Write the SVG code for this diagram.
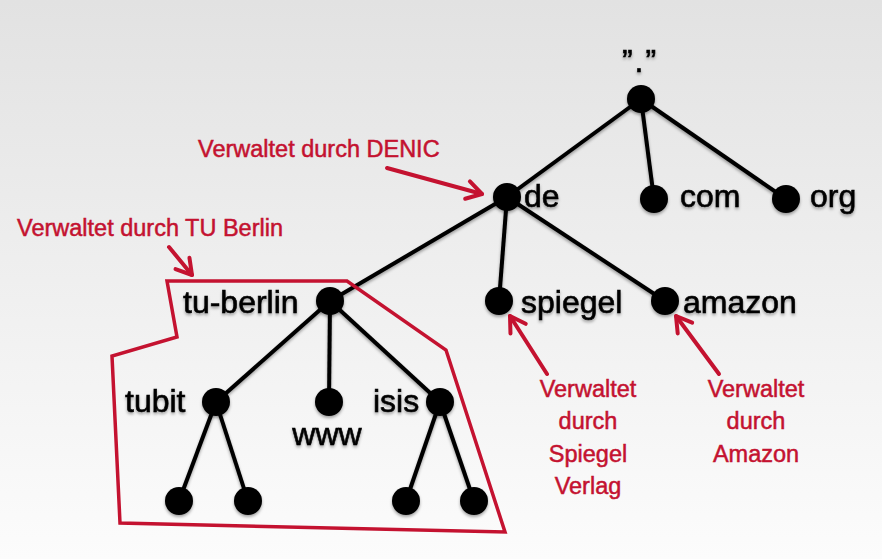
<svg xmlns="http://www.w3.org/2000/svg" width="882" height="559" viewBox="0 0 882 559">
<defs>
<linearGradient id="bg" x1="0" y1="0" x2="0" y2="1">
<stop offset="0" stop-color="#e2e2e2"/>
<stop offset="1" stop-color="#fcfcfc"/>
</linearGradient>
<filter id="sh" x="-20%" y="-20%" width="140%" height="140%">
<feDropShadow dx="0" dy="2" stdDeviation="1.6" flood-color="#000" flood-opacity="0.35"/>
</filter>
<marker id="ah" markerUnits="userSpaceOnUse" viewBox="-20 -12 24 24" markerWidth="24" markerHeight="24" refX="0" refY="0" orient="auto">
<path d="M-15,-9 L0,0 L-15,9" fill="none" stroke="#c41230" stroke-width="4" stroke-linecap="round" stroke-linejoin="round"/>
</marker>
</defs>
<style>
.edge{stroke:#000;stroke-width:4;fill:none}
.node{fill:#000}
.lbl{font-family:"Liberation Sans",Arial,sans-serif;font-size:32px;fill:#000;stroke:#000;stroke-width:0.6}
.red{font-family:"Liberation Sans",Arial,sans-serif;font-size:23.5px;fill:#c41230;stroke:#c41230;stroke-width:0.5}
.arr{stroke:#c41230;stroke-width:4;fill:none;stroke-linecap:round}
</style>
<rect x="0" y="0" width="882" height="559" fill="url(#bg)"/>

<g id="connectors" filter="url(#sh)">
<line class="edge" x1="641" y1="99" x2="507" y2="197"/>
<line class="edge" x1="641" y1="99" x2="654" y2="199"/>
<line class="edge" x1="641" y1="99" x2="786" y2="199"/>
<line class="edge" x1="507" y1="197" x2="330" y2="301"/>
<line class="edge" x1="507" y1="197" x2="499" y2="301"/>
<line class="edge" x1="507" y1="197" x2="665" y2="301"/>
<line class="edge" x1="330" y1="301" x2="216" y2="402"/>
<line class="edge" x1="330" y1="301" x2="329" y2="402"/>
<line class="edge" x1="330" y1="301" x2="440" y2="402"/>
<line class="edge" x1="216" y1="402" x2="179" y2="501"/>
<line class="edge" x1="216" y1="402" x2="248" y2="501"/>
<line class="edge" x1="440" y1="402" x2="406" y2="501"/>
<line class="edge" x1="440" y1="402" x2="474" y2="501"/>
</g>

<g id="root" filter="url(#sh)">
<circle class="node" cx="641" cy="99" r="14"/>
<text class="lbl" x="640" y="72" text-anchor="middle" letter-spacing="2">”.”</text>
</g>
<g id="de" filter="url(#sh)">
<circle class="node" cx="507" cy="197" r="14"/>
<text class="lbl" x="524" y="207">de</text>
</g>
<g id="com" filter="url(#sh)">
<circle class="node" cx="654" cy="199" r="14"/>
<text class="lbl" x="680" y="207">com</text>
</g>
<g id="org" filter="url(#sh)">
<circle class="node" cx="786" cy="199" r="14"/>
<text class="lbl" x="810" y="207">org</text>
</g>
<g id="tu-berlin" filter="url(#sh)">
<circle class="node" cx="330" cy="301" r="14"/>
<text class="lbl" x="183" y="313">tu-berlin</text>
</g>
<g id="spiegel" filter="url(#sh)">
<circle class="node" cx="499" cy="301" r="14"/>
<text class="lbl" x="521" y="313">spiegel</text>
</g>
<g id="amazon" filter="url(#sh)">
<circle class="node" cx="665" cy="301" r="14"/>
<text class="lbl" x="683" y="313">amazon</text>
</g>
<g id="tubit" filter="url(#sh)">
<circle class="node" cx="216" cy="402" r="14"/>
<text class="lbl" x="125" y="412">tubit</text>
</g>
<g id="www" filter="url(#sh)">
<circle class="node" cx="329" cy="402" r="14"/>
<text class="lbl" x="327" y="445" text-anchor="middle" font-size="30">www</text>
</g>
<g id="isis" filter="url(#sh)">
<circle class="node" cx="440" cy="402" r="14"/>
<text class="lbl" x="373" y="412">isis</text>
</g>
<g id="tubit-leaf1" filter="url(#sh)"><circle class="node" cx="179" cy="501" r="14"/></g>
<g id="tubit-leaf2" filter="url(#sh)"><circle class="node" cx="248" cy="501" r="14"/></g>
<g id="isis-leaf1" filter="url(#sh)"><circle class="node" cx="406" cy="501" r="14"/></g>
<g id="isis-leaf2" filter="url(#sh)"><circle class="node" cx="474" cy="501" r="14"/></g>

<g id="annotations">
<polygon points="167,281 347,281 446,350 505,532 120,523 112,356 177,337" fill="none" stroke="#c41230" stroke-width="3.5" stroke-linejoin="miter"/>
<line class="arr" x1="387" y1="168" x2="482" y2="194" marker-end="url(#ah)"/>
<line class="arr" x1="169" y1="247" x2="192" y2="275" marker-end="url(#ah)"/>
<line class="arr" x1="547" y1="374" x2="510" y2="316" marker-end="url(#ah)"/>
<line class="arr" x1="719" y1="374" x2="676" y2="316" marker-end="url(#ah)"/>
<text class="red" x="198" y="157">Verwaltet durch DENIC</text>
<text class="red" x="17" y="236">Verwaltet durch TU Berlin</text>
<text class="red" text-anchor="middle" x="588"><tspan x="588" y="397">Verwaltet</tspan><tspan x="588" y="429">durch</tspan><tspan x="588" y="462">Spiegel</tspan><tspan x="588" y="494">Verlag</tspan></text>
<text class="red" text-anchor="middle" x="756"><tspan x="756" y="397">Verwaltet</tspan><tspan x="756" y="429">durch</tspan><tspan x="756" y="462">Amazon</tspan></text>
</g>
</svg>
